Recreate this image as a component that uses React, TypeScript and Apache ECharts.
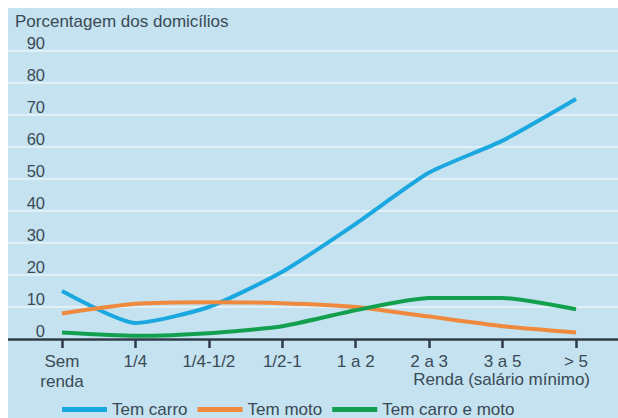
import React, { useEffect, useRef } from "react";
import * as echarts from "echarts";

const categories = ["Sem\nrenda", "1/4", "1/4-1/2", "1/2-1", "1 a 2", "2 a 3", "3 a 5", "> 5"];
const temCarro = [15, 5, 10, 21, 36, 52, 62, 75];
const temMoto = [8, 11, 11.5, 11.2, 10, 7, 4, 2];
const temCarroEMoto = [2, 1, 1.8, 4, 9, 12.8, 12.8, 9.3];
const yTicks = [0, 10, 20, 30, 40, 50, 60, 70, 80, 90];

const TEXT = "#3a4a56";
const FONT = "'Liberation Sans', Arial, Helvetica, sans-serif";
const FS = 17;

export default function App() {
  const ref = useRef<HTMLDivElement>(null);
  useEffect(() => {
    if (!ref.current) return;
    const chart = echarts.init(ref.current, undefined, { renderer: "svg" });
    const toPairs = (arr: number[]) => arr.map((v, i) => [i, v]);
    const idx = categories.map((_, i) => i);
    chart.setOption({
      animation: false,
      backgroundColor: "#c4e2ef",
      textStyle: { fontFamily: FONT },
      title: {
        text: "Porcentagem dos domicílios",
        left: 7,
        top: 5,
        padding: 0,
        textStyle: { fontSize: FS, fontWeight: "normal", color: TEXT, fontFamily: FONT },
      },
      grid: { left: 0, right: 0, top: 43, bottom: 79, containLabel: false },
      xAxis: {
        type: "value",
        min: -0.7354,
        max: 7.572,
        splitLine: { show: false },
        axisLine: { show: true, onZero: false, lineStyle: { color: "#2e3b46", width: 2.5 } },
        axisTick: { show: true, length: 9, lineStyle: { color: "#2e3b46", width: 2.5 }, customValues: idx },
        axisLabel: {
          customValues: idx,
          formatter: (v: number) => categories[Math.round(v)] ?? "",
          fontSize: FS,
          color: TEXT,
          lineHeight: 20,
          margin: 12,
          fontFamily: FONT,
        },
      },
      yAxis: {
        type: "value",
        min: 0,
        max: 90,
        interval: 10,
        axisLine: { show: false },
        axisTick: { show: false },
        splitLine: { show: true, lineStyle: { color: "#e1f0f7", width: 2 } },
        axisLabel: {
          inside: true,
          margin: 37,
          align: "right",
          verticalAlign: "bottom",
          fontSize: 16.5,
          color: TEXT,
          fontFamily: FONT,
          customValues: yTicks,
        },
      },
      legend: {
        left: 54,
        top: 393,
        padding: 0,
        itemGap: 10,
        itemWidth: 45,
        itemHeight: 5,
        icon: "rect",
        textStyle: { fontSize: FS, color: TEXT, fontFamily: FONT },
        data: ["Tem carro", "Tem moto", "Tem carro e moto"],
      },
      graphic: [
        {
          type: "text",
          right: 28,
          top: 363,
          style: {
            text: "Renda (salário mínimo)",
            fontSize: FS,
            fill: TEXT,
            fontFamily: FONT,
          },
        },
      ],
      series: [
        {
          name: "Tem carro",
          type: "line",
          data: toPairs(temCarro),
          smooth: 0.2,
          symbol: "none",
          lineStyle: { color: "#1ba7df", width: 4 },
          itemStyle: { color: "#1ba7df" },
        },
        {
          name: "Tem moto",
          type: "line",
          data: toPairs(temMoto),
          smooth: 0.2,
          symbol: "none",
          lineStyle: { color: "#ef893d", width: 4 },
          itemStyle: { color: "#ef893d" },
        },
        {
          name: "Tem carro e moto",
          type: "line",
          data: toPairs(temCarroEMoto),
          smooth: 0.2,
          symbol: "none",
          lineStyle: { color: "#12a04e", width: 4 },
          itemStyle: { color: "#12a04e" },
        },
      ],
    });
    return () => chart.dispose();
  }, []);
  return (
    <div
      ref={ref}
      style={{ position: "absolute", left: 8, top: 8, width: 610, height: 410 }}
    />
  );
}
